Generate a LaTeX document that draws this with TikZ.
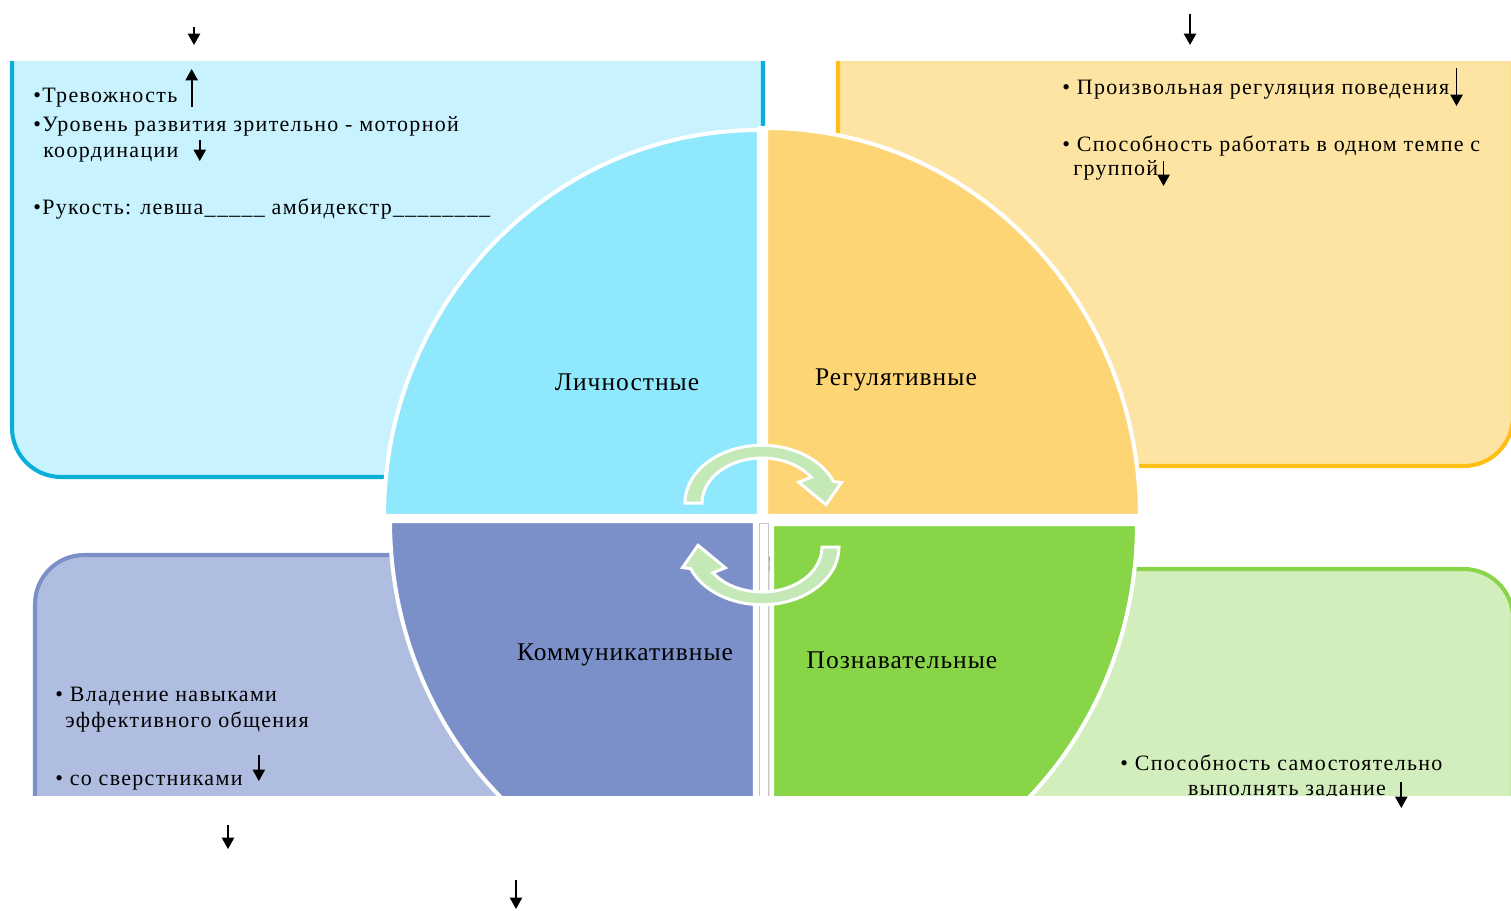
\documentclass[tikz,border=0pt]{standalone}
\usepackage{fontspec}
\setmainfont{Liberation Serif}
\newfontfamily\spreadfont{Liberation Serif}[LetterSpace=6]
\newfontfamily\labelfont{Liberation Serif}[LetterSpace=4]
\usetikzlibrary{arrows.meta,calc,positioning}

\definecolor{cyanfill}{HTML}{C8F2FE}
\definecolor{cyanline}{HTML}{0AAFD9}
\definecolor{cyanpart}{HTML}{8FE8FC}
\definecolor{yellfill}{HTML}{FDE4A2}
\definecolor{yellline}{HTML}{FEBE14}
\definecolor{yellpart}{HTML}{FDD574}
\definecolor{violfill}{HTML}{AFBDE0}
\definecolor{violline}{HTML}{7C90C8}
\definecolor{violpart}{HTML}{7B90C8}
\definecolor{grnfill}{HTML}{D3EEBD}
\definecolor{grnline}{HTML}{88D548}
\definecolor{grnpart}{HTML}{88D548}
\definecolor{turngreen}{HTML}{C5E8B7}

\tikzset{
  panel/.style = {line width=2.3pt, rounded corners=28pt},
  quarter/.style = {draw=white, line width=2.3pt},
  turn/.style = {fill=turngreen, draw=white, line width=1.7pt},
  item/.style = {anchor=base west, inner sep=0pt, font=\spreadfont\fontsize{12.5}{15}\selectfont},
  sector/.style = {inner sep=0pt, font=\labelfont\fontsize{14.5}{17}\selectfont},
  trend/.style = {line width=1pt, -{Triangle[length=6.5pt,width=7pt]}}
}

\begin{document}
\begin{tikzpicture}[x=0.02cm, y=-0.02cm]
  \useasboundingbox (0,0) rectangle (1511,910);

  \begin{scope}
    \clip (0,61) rectangle (1511,795);

    % the four panels
    \draw[panel, draw=cyanline, fill=cyanfill] (12,-60) rectangle (763,477);
    \draw[panel, draw=yellline, fill=yellfill] (838,-60) rectangle (1513,466);
    \draw[panel, draw=violline, fill=violfill] (35,555) rectangle (800,900);
    \draw[panel, draw=grnline, fill=grnfill] (700,569) rectangle (1513,900);

    % the circle
    \fill[white] (757,126) rectangle (768,800);
    \fill[white] (380,514) rectangle (1143,526);
    \draw[gray!45, line width=0.4pt] (759.5,523) rectangle (768.5,800);
    \filldraw[quarter, fill=cyanpart] (759,516) -- (384,516)
      arc[start angle=180, end angle=270, x radius=375, y radius=386] -- cycle;
    \filldraw[quarter, fill=yellpart] (766,516) -- (766,128)
      arc[start angle=270, end angle=360, x radius=374, y radius=388] -- cycle;
    \filldraw[quarter, fill=grnpart] (772,524) -- (1137,524)
      arc[start angle=0, end angle=90, x radius=365, y radius=385] -- cycle;
    \filldraw[quarter, fill=violpart] (755,521) -- (755,906)
      arc[start angle=90, end angle=180, x radius=365, y radius=385] -- cycle;

    % turning arrows
    \begin{scope}[shift={(762,503)}, yscale=0.75]
      \filldraw[turn] (180:77) arc[start angle=180, end angle=338, radius=77]
        -- (341:84) -- (2:64) -- (323:46) -- (325:60)
        arc[start angle=325, end angle=180, radius=60] -- cycle;
    \end{scope}
    \begin{scope}[shift={(762,547)}, yscale=0.75, rotate=180]
      \filldraw[turn] (180:77) arc[start angle=180, end angle=338, radius=77]
        -- (341:84) -- (2:64) -- (323:46) -- (325:60)
        arc[start angle=325, end angle=180, radius=60] -- cycle;
    \end{scope}

    \node[sector] (pers)  at (627,382) {Личностные};
    \node[sector] (regul) at (896,380) {Регулятивные};
    \node[sector] (comm)  at (625,655) {Коммуникативные};
    \node[sector] (cogn)  at (902,660) {Познавательные};

    % panel texts
    \node[item] (anx)    at (33,102)  {•Тревожность};
    \node[item] (coordA) at (33,131)  {•Уровень развития зрительно - моторной};
    \node[item] (coordB) at (43,157)  {координации};
    \node[item] (hand)   at (33,214)  {•Рукость: левша\_\_\_\_\_ амбидекстр\_\_\_\_\_\_\_\_};

    \node[item] (self)  at (1062,94)  {• Произвольная регуляция поведения};
    \node[item] (paceA) at (1062,151) {• Способность работать в одном темпе с};
    \node[item] (paceB) at (1073,175) {группой};

    \node[item] (talkA) at (55,701) {• Владение навыками};
    \node[item] (talkB) at (65,727) {эффективного общения};
    \node[item] (peer)  at (55,785) {• со сверстниками};

    \node[item] (taskA) at (1120,770) {• Способность самостоятельно};
    \node[item, anchor=base] (taskB) at (1287,795) {выполнять задание};
  \end{scope}

  % arrows beside the texts
  \coordinate (anxlow)   at ($(anx.base east)+(14,5)$);
  \coordinate (anxtip)   at ($(anx.base east)+(14,-33)$);
  \coordinate (coordtop) at ($(coordB.base east)+(21,-17)$);
  \coordinate (coordtip) at ($(coordB.base east)+(21,4)$);
  \coordinate (selftop)  at ($(self.base east)+(7,-26)$);
  \coordinate (selftip)  at ($(self.base east)+(7,12)$);
  \coordinate (pacetop)  at ($(paceB.base east)+(5,-14)$);
  \coordinate (pacetip)  at ($(paceB.base east)+(5,11)$);
  \coordinate (peertop)  at ($(peer.base east)+(16,-30)$);
  \coordinate (peertip)  at ($(peer.base east)+(16,-4)$);
  \coordinate (tasktop)  at ($(taskB.base east)+(15,-13)$);
  \coordinate (tasktip)  at ($(taskB.base east)+(15,13)$);
  \draw[trend] (anxlow) -- (anxtip);
  \draw[trend] (coordtop) -- (coordtip);
  \draw[trend] (selftop) -- (selftip);
  \draw[trend] (pacetop) -- (pacetip);
  \draw[trend] (peertop) -- (peertip);
  \draw[trend] (tasktop) -- (tasktip);

  % loose arrows
  \foreach \n/\x/\ya/\yb in {a/194/27/45, b/1190/14/45, c/228/825/849, d/516/880/909}{
    \coordinate (free\n) at (\x,\ya);
    \coordinate (free\n tip) at (\x,\yb);
    \draw[trend] (free\n) -- (free\n tip);
  }
\end{tikzpicture}
\end{document}
